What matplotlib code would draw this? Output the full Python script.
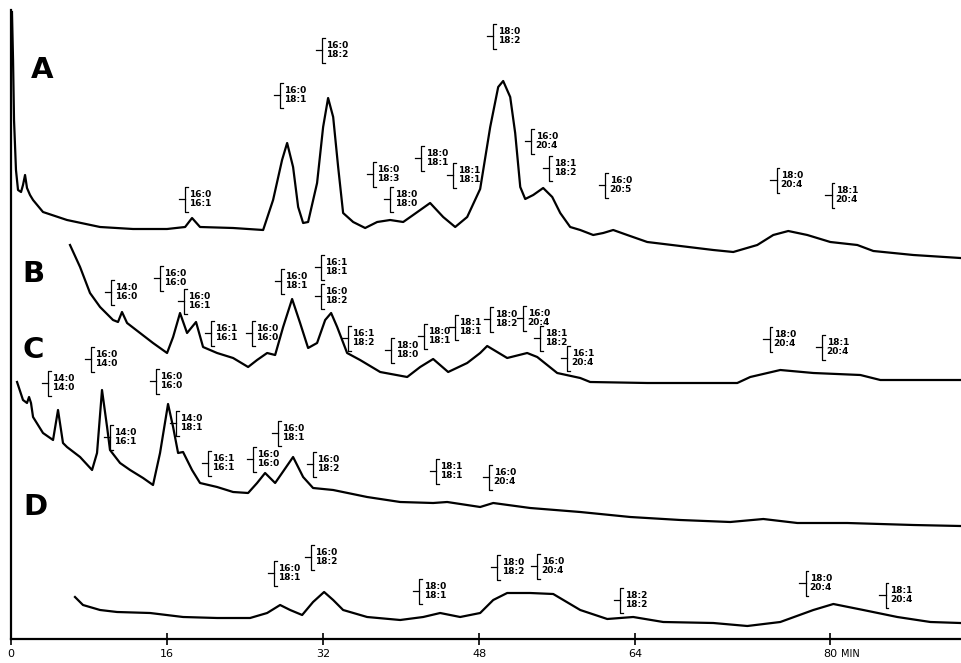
import matplotlib
matplotlib.use("Agg")
import matplotlib.pyplot as plt
from matplotlib.transforms import Affine2D, ScaledTranslation

# ---- data (minutes, detector response) ----
a_min = [0.10, 0.21, 0.31, 0.51, 0.72, 1.03, 1.23, 1.44, 1.64, 1.95, 2.26, 3.28, 5.74, 9.13, 12.51,
         16.0, 17.85, 18.56, 19.38, 22.77, 25.85, 26.87, 27.79, 28.31, 28.92, 29.44, 29.95, 30.46,
         31.38, 32.0, 32.51, 33.03, 33.54, 34.05, 35.08, 36.31, 37.54, 38.87, 40.21, 41.23, 42.97,
         44.31, 45.54, 46.77, 48.10, 49.13, 49.95, 50.46, 51.18, 51.69, 52.21, 52.72, 53.54, 54.56,
         55.49, 56.31, 57.33, 58.36, 59.69, 60.72, 61.74, 63.18, 65.23, 68.62, 72.0, 74.05, 76.51,
         78.15, 79.69, 81.64, 84.0, 86.77, 88.41, 92.51, 97.33]
a_val = [627, 579, 519, 469, 449, 447, 454, 464, 451, 444, 439, 427, 419, 412, 410,
         410, 412, 421, 412, 411, 409, 439, 479, 496, 472, 432, 416, 417,
         456, 512, 541, 522, 472, 426, 417, 411, 417, 419, 417, 424, 436,
         422, 412, 422, 450, 512, 552, 558, 542, 506, 452, 440, 444, 451,
         442, 426, 412, 409, 404, 406, 409, 404, 397, 393, 389, 387, 394,
         404, 408, 404, 397, 394, 388, 384, 381]

b_min = [6.05, 7.08, 8.10, 9.13, 10.46, 10.97, 11.38, 11.90, 13.23, 14.56, 16.0, 16.62, 17.33,
         18.05, 18.97, 19.69, 21.13, 22.77, 24.31, 25.23, 26.26, 27.08, 27.90, 28.82, 29.64, 30.46,
         31.38, 32.21, 32.82, 33.44, 34.46, 35.79, 37.85, 40.62, 41.95, 43.28, 44.82, 46.77, 48.10,
         48.82, 50.87, 52.92, 53.95, 56.0, 58.36, 59.38, 65.23, 74.46, 75.79, 78.87, 82.26, 87.08,
         89.13, 97.33]
b_val = [394, 372, 346, 332, 319, 317, 327, 316, 306, 296, 286, 302, 326,
         306, 317, 292, 286, 281, 272, 279, 286, 284, 312, 340, 316, 291,
         296, 319, 326, 312, 286, 279, 267, 262, 272, 280, 267, 276, 286,
         293, 281, 286, 282, 266, 261, 257, 256, 256, 262, 269, 266, 264,
         259, 259]

c_min = [0.62, 1.23, 1.64, 1.85, 2.05, 2.26, 3.28, 4.31, 4.82, 5.33, 5.74, 7.08, 8.31, 8.82,
         9.33, 9.85, 10.15, 11.18, 12.21, 13.54, 14.56, 15.28, 16.10, 16.62, 17.13, 17.64, 18.56,
         19.38, 21.13, 22.77, 24.31, 25.23, 26.05, 27.08, 27.79, 28.92, 29.95, 30.97, 33.03, 36.51,
         39.90, 43.28, 44.72, 48.10, 49.44, 53.23, 58.36, 63.49, 68.62, 73.74, 77.13, 80.62, 85.74,
         92.51, 97.33]
c_val = [257, 239, 236, 242, 236, 222, 206, 199, 229, 196, 192, 182, 169, 186,
         249, 212, 189, 176, 169, 161, 154, 186, 235, 212, 186, 187, 169,
         156, 152, 147, 146, 156, 166, 156, 166, 182, 162, 151, 149, 142,
         137, 136, 137, 132, 136, 131, 127, 122, 119, 117, 120, 116, 116,
         114, 113]

d_min = [6.56, 7.38, 9.13, 10.87, 14.26, 17.64, 21.13, 24.51, 26.26, 27.59, 28.62, 29.85, 30.97,
         32.10, 33.03, 34.05, 36.51, 39.90, 42.26, 44.0, 46.05, 48.10, 49.44, 50.87, 53.23, 55.59,
         58.36, 61.13, 63.79, 66.87, 72.0, 75.49, 78.87, 82.26, 84.31, 87.38, 90.87, 94.26, 97.33]
d_val = [42, 34, 29, 27, 26, 22, 21, 21, 26, 34, 29, 24, 37,
         47, 39, 29, 22, 19, 22, 26, 22, 26, 39, 46, 46, 45,
         29, 20, 22, 17, 16, 13, 17, 29, 35, 29, 22, 17, 16]

trace_names = ["A", "B", "C", "D"]
trace_name_pos = [(3.2, 569), (2.3, 365), (2.3, 289), (2.5, 132)]

tick_pos = [0, 16, 32, 48, 64, 84]
tick_labels = ["0", "16", "32", "48", "64", "80"]

# peak annotations: (minute, response, upper, lower)
peak_labels = [
    # A
    (17.64, 440, "16:0", "16:1"), (27.38, 544, "16:0", "18:1"), (31.69, 589, "16:0", "18:2"),
    (36.92, 465, "16:0", "18:3"), (38.67, 440, "18:0", "18:0"), (41.85, 481, "18:0", "18:1"),
    (45.13, 464, "18:1", "18:1"), (49.23, 603, "18:0", "18:2"), (53.13, 498, "16:0", "20:4"),
    (54.97, 471, "18:1", "18:2"), (60.72, 454, "16:0", "20:5"), (78.26, 459, "18:0", "20:4"),
    (83.90, 444, "18:1", "20:4"),
    # B
    (10.05, 347, "14:0", "16:0"), (15.08, 361, "16:0", "16:0"), (17.54, 338, "16:0", "16:1"),
    (20.31, 306, "16:1", "16:1"), (24.51, 306, "16:0", "16:0"), (27.49, 358, "16:0", "18:1"),
    (31.59, 372, "16:1", "18:1"), (31.59, 343, "16:0", "18:2"), (34.36, 301, "16:1", "18:2"),
    (38.77, 289, "18:0", "18:0"), (42.15, 303, "18:0", "18:1"), (45.33, 312, "18:1", "18:1"),
    (48.92, 320, "18:0", "18:2"), (52.31, 321, "16:0", "20:4"), (54.05, 301, "18:1", "18:2"),
    (56.82, 281, "16:1", "20:4"), (77.54, 300, "18:0", "20:4"), (82.97, 292, "18:1", "20:4"),
    # C
    (3.59, 256, "14:0", "14:0"), (8.0, 280, "16:0", "14:0"), (14.67, 258, "16:0", "16:0"),
    (9.95, 202, "14:0", "16:1"), (16.72, 216, "14:0", "18:1"), (27.18, 206, "16:0", "18:1"),
    (20.0, 176, "16:1", "16:1"), (24.62, 180, "16:0", "16:0"), (30.77, 175, "16:0", "18:2"),
    (43.38, 168, "18:1", "18:1"), (48.82, 162, "16:0", "20:4"),
    # D
    (26.77, 66, "16:0", "18:1"), (30.56, 82, "16:0", "18:2"), (41.64, 48, "18:0", "18:1"),
    (49.64, 72, "18:0", "18:2"), (53.74, 73, "16:0", "20:4"), (62.26, 39, "18:2", "18:2"),
    (81.23, 56, "18:0", "20:4"), (89.44, 44, "18:1", "20:4"),
]

# bracket shape in points, relative to the label anchor
brace_x = [-3.0, 0.0, 1.6, 1.6, 3.6, 1.6, 1.6, 3.6]
brace_y = [0.0, 0.0, 0.0, 8.5, 8.5, 8.5, -9.0, -9.0]

# ---- figure ----
W, H = 962, 663
fig = plt.figure(figsize=(W / 100, H / 100), dpi=100)
ax = fig.add_axes([11 / W, (H - 639) / H, 951 / W, (639 - 10) / H])
ax.set_xlim(0, 97.5)
ax.set_ylim(0, 629)

for xs, ys in [(a_min, a_val), (b_min, b_val), (c_min, c_val), (d_min, d_val)]:
    ax.plot(xs, ys, color="black", lw=1.6, solid_joinstyle="round")

for name, (x, y) in zip(trace_names, trace_name_pos):
    ax.text(x, y, name, fontsize=21, fontweight="bold", ha="center", va="center",
            family="DejaVu Sans")

pt_scale = Affine2D().scale(1 / 72.0) + fig.dpi_scale_trans
for x, y, top, bot in peak_labels:
    tr = pt_scale + ScaledTranslation(x, y, ax.transData)
    ax.plot(brace_x[:3], brace_y[:3], color="black", lw=0.9, transform=tr, clip_on=False)
    ax.plot([3.6, 1.6, 1.6, 3.6], [8.5, 8.5, -9.0, -9.0], color="black", lw=0.9,
            transform=tr, clip_on=False)
    ax.annotate(top + "\n" + bot, (x, y), xytext=(4.6, 0), textcoords="offset points",
                ha="left", va="center", fontsize=6.5, linespacing=0.95,
                family="DejaVu Sans", fontweight="bold")

for s in ["top", "right"]:
    ax.spines[s].set_visible(False)
ax.spines["left"].set_linewidth(1.6)
ax.spines["bottom"].set_linewidth(1.6)
ax.set_yticks([])
ax.set_xticks(tick_pos)
ax.set_xticklabels(tick_labels, fontsize=8, family="DejaVu Sans")
ax.tick_params(axis="x", direction="inout", length=8, width=1.2, pad=3)
ax.annotate("MIN", (84, 0), xycoords=("data", "axes fraction"), xytext=(8, -10.5),
            textcoords="offset points", ha="left", va="center", fontsize=7,
            family="DejaVu Sans")

fig.savefig("out.png", dpi=100)
